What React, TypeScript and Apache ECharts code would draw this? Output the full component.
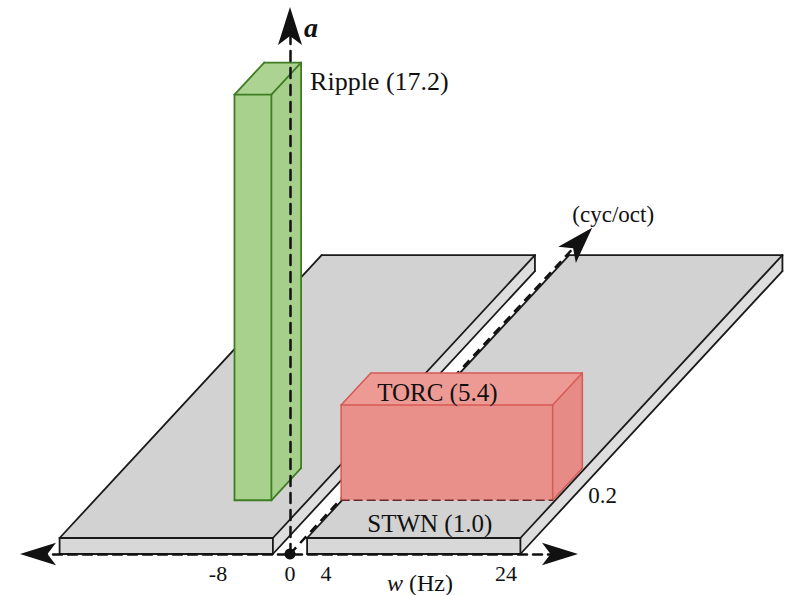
import React, { useEffect, useRef } from "react";
import * as echarts from "echarts";

// ---------------- data ----------------
const stimuli = ["Ripple", "TORC", "STWN"];
const amplitudes = [17.2, 5.4, 1.0];
const rippleRate = [-8]; // Hz
const torcRates = [1.8, 25.3]; // Hz
const stwnRates = [
  [-25.6, -1.9],
  [1.9, 25.6],
]; // Hz
const componentScales = [0.2, 0.37]; // cyc/oct (front / back of Ripple & TORC)
const stwnScales = [0, 1.5]; // cyc/oct
const rateTicks = [-8, 0, 4, 24]; // Hz
const scaleTicks = [0.2]; // cyc/oct
const scaleAxisEnd = [1.73]; // cyc/oct

// ---------------- styling / projection constants ----------------
const FONT = "'Liberation Serif', 'Times New Roman', serif";
const INK = "#111111";
const GAMMA = 1.15; // visual amplitude exponent of the schematic
const SKEW_W = 19.41; // horizontal shift (Hz) per cyc/oct (oblique depth)
const SKEW_H = 11.79; // vertical shift (height units) per cyc/oct
const RIPPLE_WIDTH = 4.1; // Hz
const ARROW_PATH = "path://M12,0 L24,38 L12,29 L0,38 Z";

const SLAB = { front: "#d8d8d8", top: "#d2d2d2", side: "#dedede", edge: "#1a1a1a", lw: 1.8 };
const TORC = {
  front: "#ea908b",
  top: "#ed9a95",
  side: "#e68b86",
  edge: "#d65a53",
  lw: 1.5,
  bottomEdge: "#6a2a27",
  bottomDash: [8, 5],
};
const RIPPLE = { front: "#a9d18e", top: "#acd392", side: "#a6cf8b", edge: "#3e7d22", lw: 1.8 };

const H = (a: number) => Math.pow(a, GAMMA);

function projector(api: any) {
  return (w: number, s: number, a: number): number[] =>
    api.coord([w + s * SKEW_W, H(a) + s * SKEW_H]);
}

function text(x: number, y: number, str: string, size: number, align: string, extra: any = {}) {
  return {
    type: "text",
    x,
    y,
    style: {
      text: str,
      fill: INK,
      fontSize: size,
      fontFamily: FONT,
      align,
      verticalAlign: "middle",
      ...extra,
    },
  };
}

function boxChildren(api: any, w0: number, w1: number, s0: number, s1: number, a0: number, a1: number, st: any) {
  const P = projector(api);
  const fbl = P(w0, s0, a0);
  const fbr = P(w1, s0, a0);
  const ftl = P(w0, s0, a1);
  const ftr = P(w1, s0, a1);
  const bbr = P(w1, s1, a0);
  const btl = P(w0, s1, a1);
  const btr = P(w1, s1, a1);
  const poly = (pts: number[][], fill: string) => ({
    type: "polygon",
    shape: { points: pts },
    style: { fill, lineWidth: 0 },
  });
  const line = (p: number[], q: number[], stroke?: string, dash?: number[]) => ({
    type: "line",
    shape: { x1: p[0], y1: p[1], x2: q[0], y2: q[1] },
    style: { stroke: stroke || st.edge, lineWidth: st.lw, lineDash: dash || null, lineCap: "round" },
  });
  return [
    poly([fbr, bbr, btr, ftr], st.side),
    poly([ftl, ftr, btr, btl], st.top),
    poly([fbl, fbr, ftr, ftl], st.front),
    line(fbr, bbr),
    line(bbr, btr),
    line(ftl, btl),
    line(btl, btr),
    line(ftr, btr),
    line(ftl, ftr),
    line(fbl, ftl),
    line(fbr, ftr),
    line(fbl, fbr, st.bottomEdge, st.bottomDash),
  ];
}

export default function App() {
  const ref = useRef<HTMLDivElement>(null);

  useEffect(() => {
    if (!ref.current) return;
    const chart = echarts.init(ref.current, null, { renderer: "svg" });

    const option: any = {
      animation: false,
      backgroundColor: "#ffffff",
      grid: { left: 38, right: 227, top: 26, bottom: 41, containLabel: false, outerBoundsMode: "none" },
      xAxis: {
        type: "value",
        min: -28,
        max: 30,
        interval: 4,
        z: 10,
        axisLine: {
          show: true,
          onZero: true,
          symbol: [ARROW_PATH, ARROW_PATH],
          symbolSize: [24, 36],
          lineStyle: { color: INK, width: 2.5, type: [9, 6] },
        },
        axisTick: { show: false },
        splitLine: { show: false },
        axisLabel: {
          formatter: (v: number) => (rateTicks.includes(v) ? String(v) : ""),
          fontSize: 22,
          fontFamily: FONT,
          color: INK,
          margin: 8,
        },
      },
      yAxis: {
        type: "value",
        min: 0,
        max: 33,
        z: 11,
        name: "a",
        nameLocation: "end",
        nameGap: -1,
        nameTextStyle: {
          fontSize: 28,
          fontStyle: "italic",
          fontWeight: "bold",
          fontFamily: FONT,
          color: INK,
          align: "left",
          verticalAlign: "middle",
          padding: [0, 0, 0, 14],
        },
        axisLine: {
          show: true,
          onZero: true,
          symbol: ["none", ARROW_PATH],
          symbolSize: [24, 38],
          lineStyle: { color: INK, width: 2.5, type: [10, 7] },
        },
        axisTick: { show: false },
        axisLabel: { show: false },
        splitLine: { show: false },
      },
      graphic: [
        {
          type: "text",
          x: 420,
          y: 583,
          z: 20,
          style: {
            text: "{w|w} (Hz)",
            fill: INK,
            fontSize: 24,
            fontFamily: FONT,
            align: "center",
            verticalAlign: "middle",
            rich: { w: { fontStyle: "italic", fontSize: 24, fontFamily: FONT, fill: INK } },
          },
        },
      ],
      series: [
        {
          name: stimuli[2],
          type: "custom",
          z: 2,
          data: stwnRates.map((r) => [r[0], r[1], amplitudes[2]]),
          renderItem: (params: any, api: any) => {
            const w0 = api.value(0);
            const w1 = api.value(1);
            const a = api.value(2);
            const children: any[] = boxChildren(api, w0, w1, stwnScales[0], stwnScales[1], 0, a, SLAB);
            if (params.dataIndex === stwnRates.length - 1) {
              const P = projector(api);
              const c = P((w0 + w1) / 2, stwnScales[0], a);
              children.push(text(c[0] + 16, c[1] - 15, `${stimuli[2]} (${a.toFixed(1)})`, 25, "center"));
              scaleTicks.forEach((s) => {
                const p = P(w1, s, a);
                children.push(text(p[0] + 33, p[1] - 5, String(s), 23, "left"));
              });
            }
            return { type: "group", children };
          },
        },
        {
          name: "spectral axis",
          type: "custom",
          z: 3,
          data: [[0, scaleAxisEnd[0]]],
          renderItem: (_params: any, api: any) => {
            const P = projector(api);
            const w = api.value(0);
            const end = api.value(1);
            const o = P(w, 0, 0);
            const tip = P(w, end, 0);
            const back = P(w, end - 0.1, 0);
            let ux = tip[0] - back[0];
            let uy = tip[1] - back[1];
            const len = Math.hypot(ux, uy);
            ux /= len;
            uy /= len;
            const nx = -uy;
            const ny = ux;
            const L = 37;
            const W = 12;
            const notch = [tip[0] - 0.76 * L * ux, tip[1] - 0.76 * L * uy];
            const w1 = [tip[0] - L * ux + W * nx, tip[1] - L * uy + W * ny];
            const w2 = [tip[0] - L * ux - W * nx, tip[1] - L * uy - W * ny];
            return {
              type: "group",
              children: [
                {
                  type: "line",
                  shape: { x1: o[0], y1: o[1], x2: notch[0], y2: notch[1] },
                  style: { stroke: INK, lineWidth: 2.5, lineDash: [9, 6] },
                },
                {
                  type: "polygon",
                  shape: { points: [tip, w1, notch, w2] },
                  style: { fill: INK },
                },
                { type: "circle", shape: { cx: o[0], cy: o[1], r: 5.5 }, style: { fill: INK } },
                text(tip[0] + 21, tip[1] - 13, "(cyc/oct)", 23, "center"),
              ],
            };
          },
        },
        {
          name: stimuli[1],
          type: "custom",
          z: 4,
          data: [[torcRates[0], torcRates[1], amplitudes[1]]],
          renderItem: (_params: any, api: any) => {
            const w0 = api.value(0);
            const w1 = api.value(1);
            const a = api.value(2);
            const children: any[] = boxChildren(
              api,
              w0,
              w1,
              componentScales[0],
              componentScales[1],
              amplitudes[2],
              a,
              TORC
            );
            const P = projector(api);
            const c = P(w0, componentScales[0], a);
            children.push(text(c[0] + 36, c[1] - 13, `${stimuli[1]} (${a.toFixed(1)})`, 25, "left"));
            return { type: "group", children };
          },
        },
        {
          name: stimuli[0],
          type: "custom",
          z: 5,
          data: [[rippleRate[0], amplitudes[0]]],
          renderItem: (_params: any, api: any) => {
            const wc = api.value(0);
            const a = api.value(1);
            const w0 = wc - RIPPLE_WIDTH / 2;
            const w1 = wc + RIPPLE_WIDTH / 2;
            const children: any[] = boxChildren(
              api,
              w0,
              w1,
              componentScales[0],
              componentScales[1],
              amplitudes[2],
              a,
              RIPPLE
            );
            const P = projector(api);
            const c = P(w1, componentScales[1], a);
            children.push(text(c[0] + 9, c[1] + 19, `${stimuli[0]} (${a.toFixed(1)})`, 26, "left"));
            return { type: "group", children };
          },
        },
      ],
    };

    chart.setOption(option);
    return () => chart.dispose();
  }, []);

  return (
    <div
      ref={ref}
      style={{ position: "absolute", left: 0, top: 0, width: 787, height: 595, background: "#fff" }}
    />
  );
}
